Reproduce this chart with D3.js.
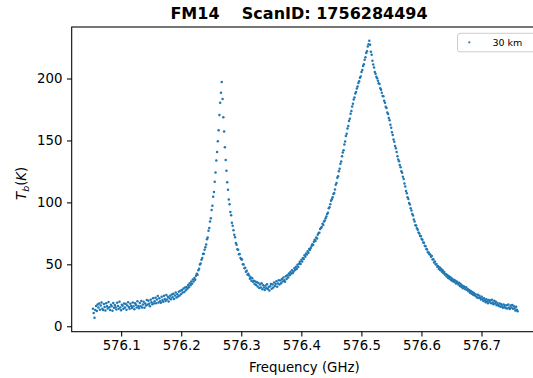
<!DOCTYPE html>
<html>
<head>
<meta charset="utf-8">
<script src="https://cdn.jsdelivr.net/npm/d3@7"></script>
<style>
  html, body { margin: 0; padding: 0; background: #fff; }
  svg { display: block; font-family: "DejaVu Sans", sans-serif; }
</style>
</head>
<body>
<svg id="chart" width="533" height="378"></svg>
<script>
// Spectrometer channel grid (GHz)
const channelStartGHz = 576.053;
const channelWidthGHz = 0.0013;

// Brightness temperature per channel, K (tangent altitude 30 km)
const tb = [
  14.2, 10.8, 6.8, 13.1, 16.4, 12.3, 17.6, 15.1, 18.3, 13.4,
  16.8, 19.2, 14.1, 13.2, 17.9, 15.6, 12.8, 18.6, 16.2, 14.4,
  19.6, 15.3, 13.1, 17.4, 16.1, 12.6, 18.8, 14.9, 17.2, 15.4,
  13.6, 18.9, 16.4, 14.2, 19.8, 15.1, 12.9, 17.3, 16.6, 14.1,
  18.4, 15.2, 17.9, 13.4, 16.8, 19.4, 15.6, 14.1, 18.2, 16.3,
  14.8, 19.1, 16.2, 13.7, 18.6, 17.3, 15.1, 20.2, 16.4, 14.6,
  18.7, 16.1, 20.4, 15.2, 17.6, 19.8, 14.9, 18.3, 16.8, 21.2,
  17.4, 20.6, 18.1, 16.2, 21.4, 19.3, 17.8, 22.6, 18.4, 20.1,
  23.1, 18.6, 21.7, 24.4, 19.2, 22.6, 20.1, 18.9, 23.8, 21.3,
  19.8, 24.6, 22.1, 20.4, 25.3, 21.6, 23.9, 19.9, 22.8, 24.7,
  21.9, 25.6, 23.4, 26.2, 22.1, 24.8, 27.3, 23.2, 25.9, 24.1,
  27.8, 24.9, 28.6, 26.1, 29.3, 27.2, 30.4, 27.6, 31.2, 29.1,
  31.8, 30.2, 33.4, 31.6, 34.7, 33.1, 36.2, 34.4, 37.8, 36.1,
  38.9, 37.6, 40.8, 42.3, 41.6, 45.2, 46.4, 49.8, 50.7, 53.8,
  55.2, 58.4, 58.6, 61.7, 63.8, 66.1, 70.3, 71.6, 77.2, 79.4,
  84.6, 87.3, 93.8, 97.2, 104.6, 108.4, 116.7, 124.2, 133.8, 140.6,
  149.3, 158.2, 170.6, 180.4, 188.6, 197.1, 183.4, 168.7, 157.2, 144.6,
  134.2, 125.6, 116.3, 110.2, 102.4, 98.6, 92.3, 89.7, 83.6, 81.1,
  77.6, 73.8, 71.9, 67.2, 65.8, 62.1, 61.7, 58.2, 58.3, 55.1,
  54.2, 53.9, 50.1, 49.8, 46.9, 47.2, 44.1, 44.8, 41.6, 42.4,
  40.9, 38.3, 39.6, 36.8, 38.7, 35.9, 36.8, 34.2, 36.1, 33.4,
  35.6, 32.1, 34.9, 30.8, 33.8, 31.2, 34.7, 29.9, 33.1, 31.4,
  29.3, 32.8, 30.6, 33.9, 30.1, 31.8, 28.9, 32.4, 34.1, 30.3,
  33.7, 31.2, 35.4, 32.6, 34.1, 36.3, 31.9, 34.6, 37.1, 33.8,
  36.9, 34.8, 38.2, 36.1, 39.3, 37.2, 35.9, 40.4, 38.1, 41.2,
  39.4, 42.6, 41.1, 43.8, 42.4, 45.3, 43.1, 44.2, 46.8, 45.4,
  48.1, 46.2, 49.6, 47.8, 50.4, 52.1, 50.3, 53.6, 52.2, 55.1,
  54.3, 57.4, 56.1, 58.8, 57.9, 60.6, 59.3, 62.4, 61.6, 63.2,
  64.8, 66.3, 65.6, 68.2, 69.8, 68.9, 71.6, 70.8, 73.9, 75.2,
  75.4, 78.6, 79.4, 80.2, 82.7, 81.8, 84.6, 85.3, 87.1, 88.6,
  90.6, 91.7, 95.2, 96.1, 98.4, 101.3, 102.6, 104.1, 106.8, 107.6,
  110.4, 114.2, 115.6, 119.8, 121.2, 125.1, 127.1, 131.2, 133.1, 137.2,
  140.2, 142.1, 146.8, 149.1, 153.6, 155.4, 159.7, 161.6, 165.8, 167.5,
  171.6, 173.8, 177.4, 179.6, 183.1, 184.7, 187.9, 189.2, 191.9, 193.6,
  196.4, 197.8, 200.7, 201.6, 205.3, 206.8, 210.1, 211.6, 215.2, 217.1,
  220.6, 222.1, 225.8, 227.6, 230.4, 227.2, 221.6, 219.1, 214.4, 211.3,
  208.9, 205.2, 203.9, 201.4, 200.3, 198.2, 196.1, 195.6, 192.1, 190.9,
  188.6, 185.9, 185.6, 182.1, 180.4, 177.2, 176.1, 172.6, 171.4, 168.1,
  166.4, 162.7, 160.3, 156.6, 154.4, 150.8, 148.9, 145.6, 143.8, 140.7,
  137.3, 134.6, 133.2, 130.1, 128.4, 125.2, 123.9, 120.6, 118.9, 115.2,
  112.9, 109.1, 107.4, 104.1, 102.8, 99.6, 98.3, 95.2, 93.4, 90.6,
  89.4, 86.1, 84.5, 81.6, 81.3, 79.1, 77.9, 75.6, 74.8, 73.1,
  72.6, 70.4, 69.9, 67.6, 67.4, 64.9, 64.6, 62.4, 61.9, 59.8,
  59.6, 58.1, 57.9, 56.2, 56.8, 53.9, 54.1, 51.4, 52.2, 49.8,
  50.2, 48.1, 48.7, 46.2, 47.6, 45.3, 46.4, 44.1, 45.2, 42.8,
  43.8, 41.6, 42.2, 40.1, 41.3, 38.9, 40.4, 38.2, 39.6, 37.1,
  38.3, 36.4, 37.6, 35.8, 36.9, 34.6, 36.2, 35.1, 33.8, 35.2,
  32.6, 34.1, 31.8, 32.9, 30.6, 32.4, 31.2, 29.8, 31.6, 29.4,
  30.1, 28.2, 29.3, 27.1, 28.4, 26.2, 27.6, 25.4, 26.8, 24.9,
  25.8, 24.1, 23.2, 25.4, 22.8, 24.6, 23.1, 21.6, 23.8, 22.1,
  20.4, 22.6, 21.1, 19.3, 21.9, 20.2, 18.6, 21.3, 19.8, 20.9,
  18.6, 21.4, 19.2, 17.8, 20.6, 18.3, 19.7, 16.9, 18.8, 17.2,
  16.4, 18.4, 15.7, 17.8, 16.2, 14.9, 17.6, 15.4, 16.8, 14.6,
  16.9, 14.3, 17.6, 15.2, 13.9, 16.7, 15.1, 17.2, 14.1, 16.3,
  14.6, 12.8, 15.7, 13.4, 12.2
];

const xTicks = [576.1, 576.2, 576.3, 576.4, 576.5, 576.6, 576.7];
const yTicks = [0, 50, 100, 150, 200];
const titleText = "FM14    ScanID: 1756284494";
const seriesLabel = "30 km";
const xLabel = "Frequency (GHz)";

const color = "#1f77b4";
const points = tb.map((t, i) => ({ f: channelStartGHz + i * channelWidthGHz, t }));

const svg = d3.select("#chart");
const plot = { left: 71.7, right: 538.9, top: 27, bottom: 331.7 };

// Axis limits with 5% padding around the data extent
function padded(ext) {
  const r = ext[1] - ext[0];
  return [ext[0] - 0.05 * r, ext[1] + 0.05 * r];
}
const x = d3.scaleLinear()
  .domain(padded(d3.extent(points, d => d.f)))
  .range([plot.left, plot.right]);
const y = d3.scaleLinear()
  .domain(padded(d3.extent(points, d => d.t)))
  .range([plot.bottom, plot.top]);

// Scatter points
svg.append("g")
  .selectAll("circle")
  .data(points)
  .join("circle")
  .attr("cx", d => x(d.f))
  .attr("cy", d => y(d.t))
  .attr("r", 1.25)
  .attr("fill", color);

// Axes
const xAxis = svg.append("g")
  .attr("transform", `translate(0,${plot.bottom})`)
  .call(d3.axisBottom(x).tickValues(xTicks).tickFormat(d3.format(".1f"))
        .tickSize(4.7).tickPadding(4.5).tickSizeOuter(0));
const yAxis = svg.append("g")
  .attr("transform", `translate(${plot.left},0)`)
  .call(d3.axisLeft(y).tickValues(yTicks).tickFormat(d3.format("d"))
        .tickSize(4.7).tickPadding(4.5).tickSizeOuter(0));

[xAxis, yAxis].forEach(g => {
  g.select(".domain").remove();
  g.selectAll(".tick line").attr("stroke", "#000").attr("stroke-width", 1.07);
  g.selectAll(".tick text")
    .attr("fill", "#000")
    .attr("font-size", "13.3px")
    .attr("font-family", "DejaVu Sans, sans-serif");
});

// Spines
svg.append("rect")
  .attr("x", plot.left).attr("y", plot.top)
  .attr("width", plot.right - plot.left).attr("height", plot.bottom - plot.top)
  .attr("fill", "none").attr("stroke", "#000").attr("stroke-width", 1.07);

// Title
svg.append("text")
  .attr("x", 299).attr("y", 18.5)
  .attr("text-anchor", "middle")
  .attr("font-size", "16px").attr("font-weight", "bold")
  .style("white-space", "pre")
  .text(titleText);

// Axis labels
svg.append("text")
  .attr("x", (plot.left + plot.right) / 2 - 1).attr("y", 372)
  .attr("text-anchor", "middle")
  .attr("font-size", "13.3px")
  .text(xLabel);

const yl = svg.append("text")
  .attr("transform", `translate(26,${(plot.top + plot.bottom) / 2 + 4}) rotate(-90)`)
  .attr("text-anchor", "middle")
  .attr("font-size", "13.3px");
yl.append("tspan").attr("font-style", "italic").text("T");
yl.append("tspan").attr("font-style", "italic").attr("font-size", "9.5px").attr("dy", 3).text("b");
yl.append("tspan").attr("dy", -3).text("(");
yl.append("tspan").attr("font-style", "italic").text("K");
yl.append("tspan").text(")");

// Legend
const lg = svg.append("g");
lg.append("rect")
  .attr("x", 457.5).attr("y", 33.3).attr("width", 90).attr("height", 18.5)
  .attr("rx", 2.5)
  .attr("fill", "#fff").attr("fill-opacity", 0.8)
  .attr("stroke", "#cccccc").attr("stroke-width", 1);
lg.append("circle")
  .attr("cx", 469.3).attr("cy", 42.3).attr("r", 1.1).attr("fill", color);
lg.append("text")
  .attr("x", 492.5).attr("y", 45.8)
  .attr("font-size", "9.5px")
  .text(seriesLabel);
</script>
</body>
</html>
